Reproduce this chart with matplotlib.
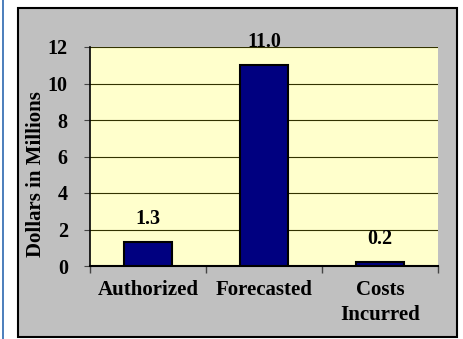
import matplotlib.pyplot as plt
from matplotlib.patches import Rectangle
import numpy as np

categories = ['Authorized', 'Forecasted', 'Costs\nIncurred']
values = [1.3, 11.0, 0.2]
value_labels = ['1.3', '11.0', '0.2']
yticks = [0, 2, 4, 6, 8, 10, 12]

plt.rcParams['font.family'] = 'Liberation Serif'
plt.rcParams['font.weight'] = 'bold'

fig = plt.figure(figsize=(4.63, 3.39), dpi=100)
W, H = 463, 339

# blue line on the left edge
fig.add_artist(Rectangle((2 / W, 0), 2 / W, 1, transform=fig.transFigure,
                         facecolor='#4f81bd', edgecolor='none'))
# gray chart area with black border
fig.add_artist(Rectangle((18 / W, 1 - 337 / H), 439 / W, 329 / H, transform=fig.transFigure,
                         facecolor='#c0c0c0', edgecolor='black', linewidth=1.5))

ax = fig.add_axes([90 / W, 1 - 266 / H, 348 / W, 219 / H])
ax.set_facecolor('#ffffcc')
# shadow on top/right of plot area
fig.add_artist(Rectangle((92 / W, 1 - 264 / H), 349 / W, 220 / H, transform=fig.transFigure,
                         facecolor='#858585', edgecolor='none', zorder=0.5))
ax.set_zorder(1)

x = np.arange(len(categories))
ax.bar(x, values, width=0.41, color='#000080', edgecolor='black', linewidth=1.5, zorder=3)
ax.set_xlim(-0.5, 2.5)
ax.set_ylim(0, 12)
ax.set_yticks(yticks)
ax.yaxis.grid(True, color='#333300', linewidth=0.8, zorder=0)
ax.set_axisbelow(True)

ax.set_xticks([-0.5, 0.5, 1.5, 2.5])
ax.set_xticklabels([])
ax.set_xticks(x, minor=True)
ax.set_xticklabels(categories, minor=True, fontsize=15, fontweight='bold', linespacing=1.35)
ax.tick_params(axis='x', which='minor', length=0, pad=10)
ax.tick_params(axis='x', which='major', length=5, color='#444444', width=1)
ax.tick_params(axis='y', labelsize=14.5, length=4, pad=12, color='#444444')

for lbl in ax.get_yticklabels():
    lbl.set_fontweight('bold')

for s in ['top', 'right']:
    ax.spines[s].set_visible(False)
ax.spines['left'].set_color('black')
ax.spines['left'].set_linewidth(1.2)
ax.spines['bottom'].set_color('black')
ax.spines['bottom'].set_linewidth(1.5)

fig.text(36 / W, 1 - 174 / H, 'Dollars in Millions', rotation=90, ha='center', va='center',
         fontsize=15, fontweight='bold')

for xi, v, t in zip(x, values, value_labels):
    ax.annotate(t, (xi, v), xytext=(0, 17), textcoords='offset points',
                ha='center', va='center', fontsize=14.5, fontweight='bold',
                annotation_clip=False)

fig.savefig('out.png', dpi=100)
